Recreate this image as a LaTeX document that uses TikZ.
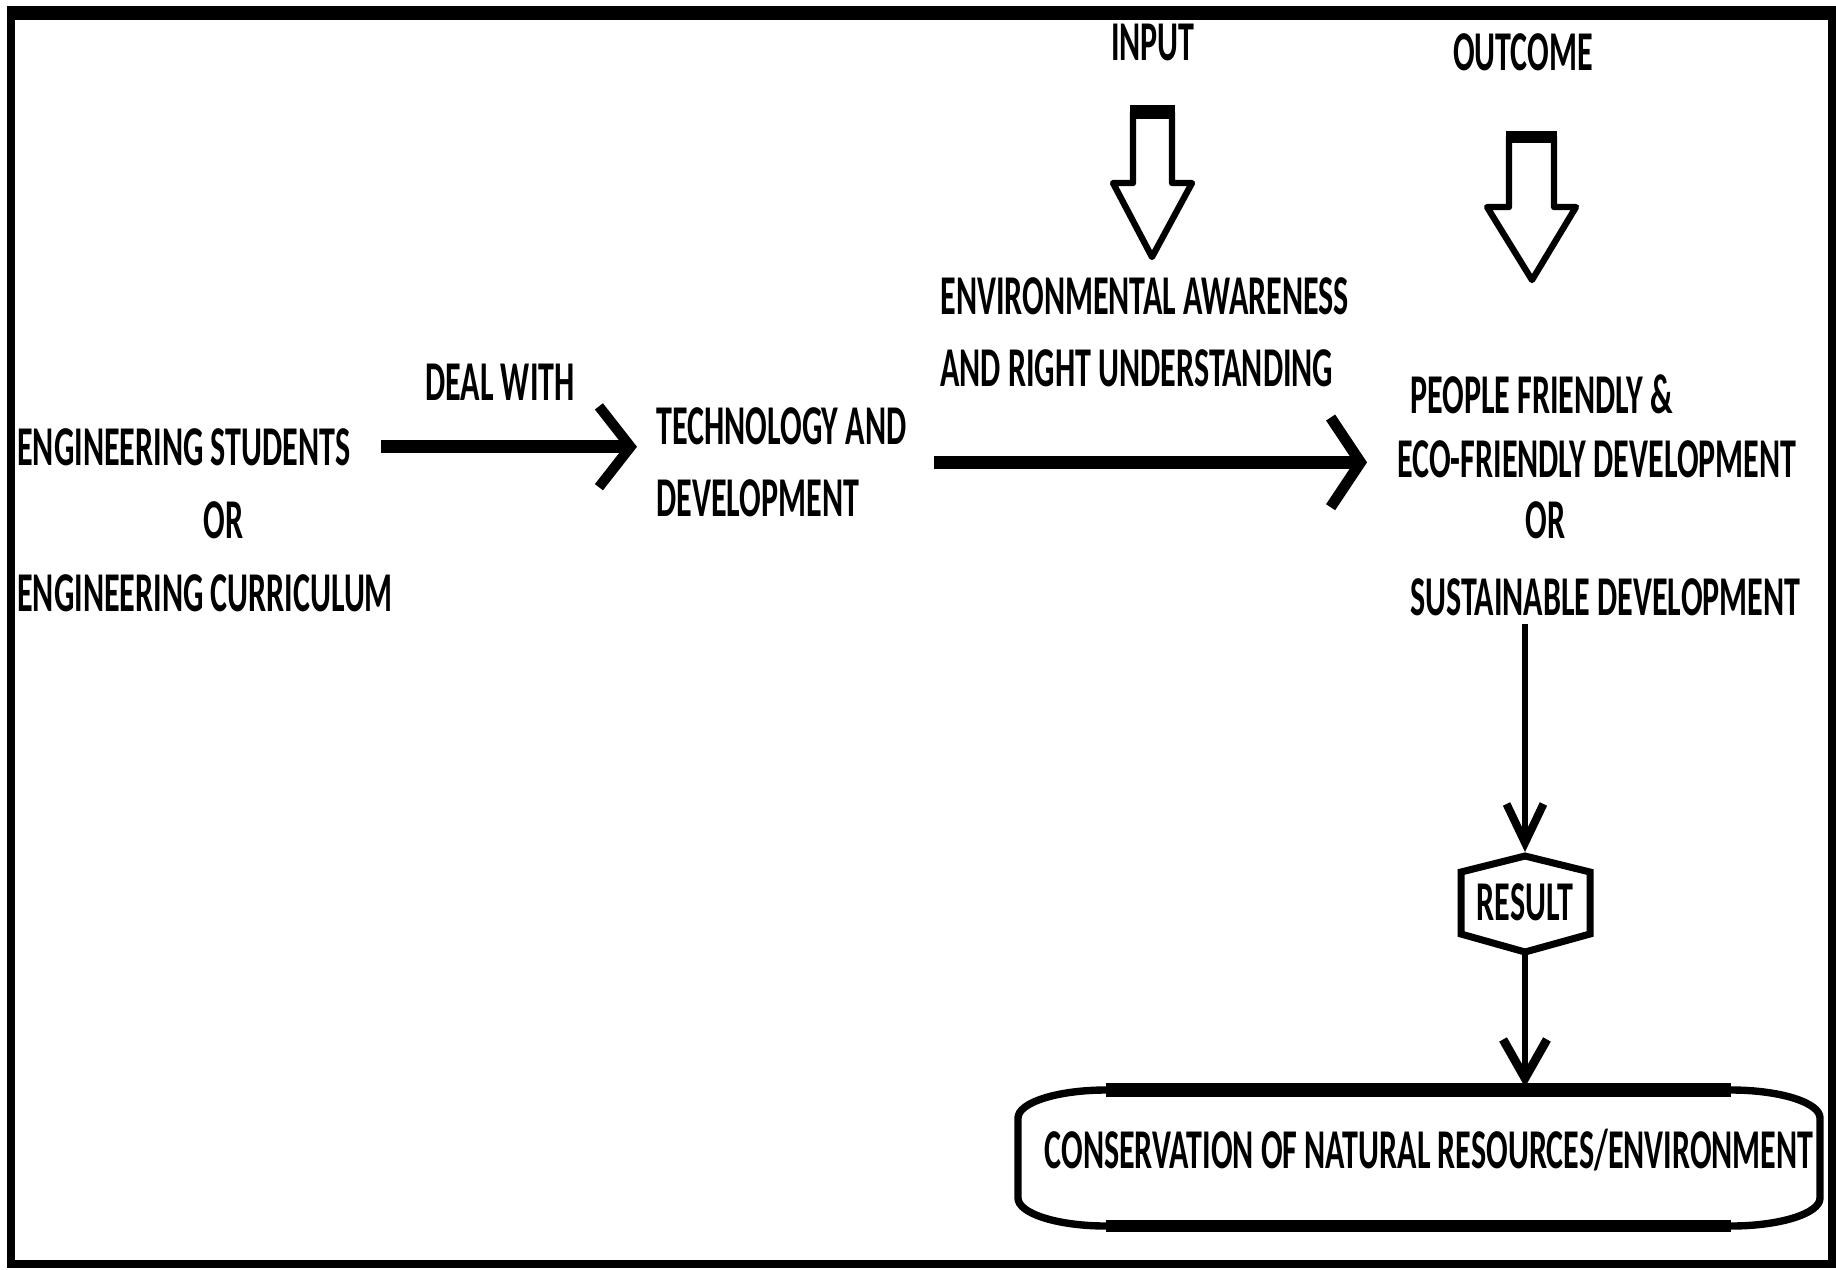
\documentclass[tikz,border=0pt]{standalone}
\usepackage{fontspec}
\newfontfamily\diagfont{Carlito}[FakeStretch=0.57]
\usetikzlibrary{arrows.meta,positioning}

\begin{document}
\begin{tikzpicture}[x=.02cm,y=.02cm,
			lbl/.style={font=\diagfont\bfseries\fontsize{32}{41.4}\selectfont, inner sep=0pt},
			widearrow/.style={line width=7.6pt, -{Straight Barb[length=18pt,width=46pt,line width=5.8pt]}},
			thinarrow/.style={line width=3.6pt, -{Straight Barb[length=22pt,width=21pt,line width=4.6pt]}}
			]
			\fill[white] (0,0) rectangle (1836,-1269);
			\useasboundingbox (0,0) rectangle (1836,-1269);
			%Marco%
			\draw [line width=4.5pt] (11,-13) rectangle (1832,-1264);
			\draw [line width=7.9pt] (7,-13)--(1836,-13);
			%Textos%
			\node[lbl, anchor=base] (inp) at (1153,-60) {INPUT};
			\node[lbl, anchor=base] (outc) at (1523,-70) {OUTCOME};
			\node[lbl, anchor=base west] (stud) at (17,-465) {ENGINEERING STUDENTS};
			\node[lbl, anchor=base west] (orl) at (203,-538) {OR};
			\node[lbl, anchor=base west] (curr) at (17,-611) {ENGINEERING CURRICULUM};
			\node[lbl, anchor=base] (deal) at (500,-400) {DEAL WITH};
			\node[lbl, anchor=north west, align=left] (tech) at (656,-407) {TECHNOLOGY AND\\DEVELOPMENT};
			\node[lbl, anchor=north west, align=left] (envi) at (940,-277) {ENVIRONMENTAL AWARENESS\\AND RIGHT UNDERSTANDING};
			\node[lbl, anchor=base west] (peop) at (1410,-413) {PEOPLE FRIENDLY \&};
			\node[lbl, anchor=base west] (eco) at (1397,-477) {ECO-FRIENDLY DEVELOPMENT};
			\node[lbl, anchor=base west] (orr) at (1525,-538) {OR};
			\node[lbl, anchor=base west] (sus) at (1410,-615) {SUSTAINABLE DEVELOPMENT};
			\node[lbl, anchor=base] (res) at (1525,-920) {RESULT};
			\node[lbl, anchor=base] (cons) at (1429,-1168) {CONSERVATION OF NATURAL RESOURCES/ENVIRONMENT};
			%FlechaInput%
			\draw [line width=3.6pt, line join=round] (1133,-112)--(1133,-183)--(1113,-183)--(1152,-257)--(1192,-183)--(1172,-183)--(1172,-112)--cycle;
			\draw [line width=8.5pt] (1130,-112)--(1175,-112);
			%FlechaOutcome%
			\draw [line width=3.6pt, line join=round] (1509,-137)--(1509,-207)--(1487,-207)--(1532,-280)--(1576,-207)--(1554,-207)--(1554,-137)--cycle;
			\draw [line width=6.8pt] (1506,-137)--(1557,-137);
			%Hexagono%
			\coordinate (hexT) at (1525,-852);
			\coordinate (hexB) at (1525,-955);
			\draw [line width=4pt] (1525,-856)--(1590,-872)--(1590,-934)--(1525,-952)--(1461,-934)--(1461,-872)--cycle;
			%Caja%
			\coordinate (boxT) at (1525,-1087);
			\draw [line width=4.2pt] (1106,-1090)--(1731,-1090) arc[start angle=90, end angle=0, x radius=89, y radius=28]
				--(1820,-1198) arc[start angle=0, end angle=-90, x radius=89, y radius=28]
				--(1106,-1226) arc[start angle=270, end angle=180, x radius=88, y radius=28]
				--(1018,-1118) arc[start angle=180, end angle=90, x radius=88, y radius=28]--cycle;
			\draw [line width=8.5pt] (1106,-1090)--(1731,-1090);
			\draw [line width=6.8pt] (1106,-1226)--(1731,-1226);
			%Conectores%
			\draw [widearrow, shorten <=.6cm, shorten >=.38cm] (stud)--(stud -| tech.west);
			\draw [widearrow, -{Straight Barb[length=17pt,width=51pt,line width=6.2pt]}, shorten <=.54cm, shorten >=.6cm] (tech)--(tech -| eco.west);
			\draw [thinarrow, shorten <=.16cm] (sus.south -| res)--(hexT);
			\draw [thinarrow, -{Straight Barb[length=22pt,width=25pt,line width=5pt]}] (hexB)--(boxT);
			\end{tikzpicture}
\end{document}
